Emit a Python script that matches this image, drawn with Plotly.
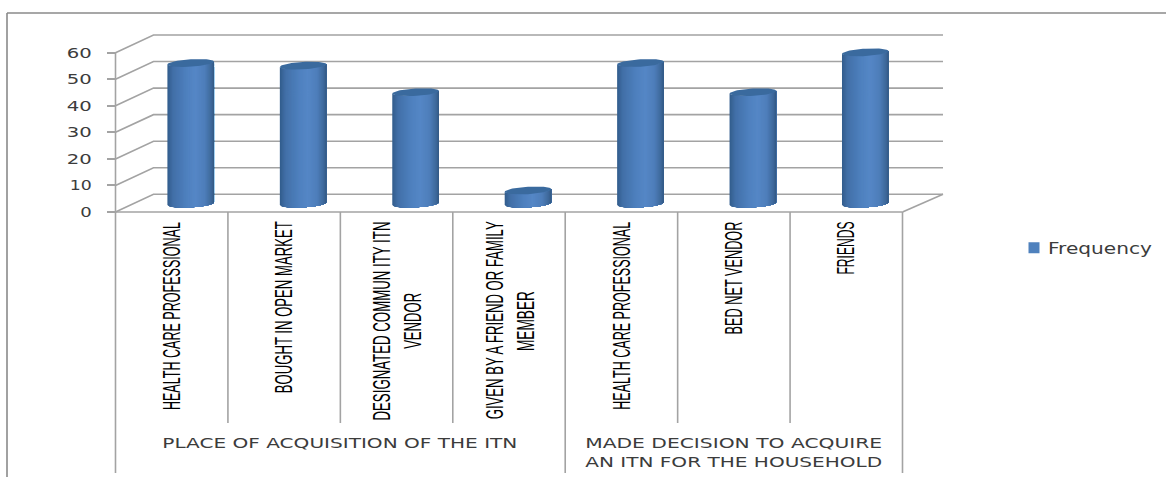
import json
import numpy as np
import plotly.graph_objects as go

# Survey responses: where the ITN came from and who decided to acquire it
categories = [
    ["HEALTH CARE PROFESSIONAL"],
    ["BOUGHT IN OPEN MARKET"],
    ["DESIGNATED COMMUN ITY ITN", "VENDOR"],
    ["GIVEN BY A FRIEND OR FAMILY", "MEMBER"],
    ["HEALTH CARE PROFESSIONAL"],
    ["BED NET VENDOR"],
    ["FRIENDS"],
]
frequency = [53, 52, 42, 5, 53, 42, 57]
groups = [["PLACE OF ACQUISITION OF THE ITN"],
          ["MADE DECISION TO ACQUIRE", "AN ITN FOR THE HOUSEHOLD"]]
group_spans = [(0, 3), (4, 6)]
y_ticks = [0, 10, 20, 30, 40, 50, 60]

WIDTH, HEIGHT = 1166, 477
# Screen extents of the front plane of the 3-D box
LEFT, RIGHT, FLOOR, TOP60 = 115.5, 902.5, 212.0, 52.7
PX_X = (RIGHT - LEFT) / 7
PX_Y = (FLOOR - TOP60) / 60
DEPTH_X, DEPTH_Y = 38 / PX_X, 17.7 / PX_Y      # oblique depth of the box
GRID = "#a3a3a3"
AXIS_TEXT = "#3c3c3c"

# Set widths of the condensed and extended captions, in pixels
text_lengths = {
    "HEALTH CARE PROFESSIONAL": 188, "BOUGHT IN OPEN MARKET": 172,
    "DESIGNATED COMMUN ITY ITN": 199, "VENDOR": 56,
    "GIVEN BY A FRIEND OR FAMILY": 198, "MEMBER": 60,
    "BED NET VENDOR": 113, "FRIENDS": 53,
    "PLACE OF ACQUISITION OF THE ITN": 355,
    "MADE DECISION TO ACQUIRE": 297, "AN ITN FOR THE HOUSEHOLD": 297,
    "Frequency": 104,
    "0": 11.5, "10": 22, "20": 25, "30": 25, "40": 25, "50": 25, "60": 25,
}


def down(px):
    """Data y of a point `px` screen pixels below the floor line."""
    return -px / PX_Y


def mix(stops, u):
    pos = [s[0] for s in stops]
    rgb = [np.interp(u, pos, [s[1][i] for s in stops]) for i in range(3)]
    return "rgb(%d,%d,%d)" % tuple(int(round(c)) for c in rgb)


SHADE = [(-1.0, (50, 92, 140)), (-0.75, (66, 112, 168)), (-0.2, (78, 128, 190)),
         (0.2, (85, 135, 198)), (0.6, (78, 126, 186)), (0.88, (62, 105, 155)),
         (1.0, (50, 88, 130))]

fig = go.Figure()

# Back wall, side wall and floor outline
wall_x, wall_y = [], []
for t in y_ticks:
    wall_x += [-0.5, -0.5 + DEPTH_X, 6.5 + 40.5 / PX_X, None]
    wall_y += [t, t + DEPTH_Y, t + DEPTH_Y, None]
wall_x += [6.5, 6.5 + 40.5 / PX_X, None, -0.5, 6.5, None, -0.5, -0.5, None]
wall_y += [0, DEPTH_Y, None, 0, 0, None, 0, 60, None]

# Dividers hanging below the floor between the categories and groups
for i in range(8):
    depth = 261 if i in (0, 4, 7) else 211
    wall_x += [i - 0.5, i - 0.5, None]
    wall_y += [0, down(depth), None]

fig.add_trace(go.Scatter(x=wall_x, y=wall_y, mode="lines",
                         line=dict(color=GRID, width=1.6), showlegend=False,
                         hoverinfo="skip"))

# Cylinders: graded colour bands painted left to right, each one covering the
# remainder of the body, then closed by a tilted elliptical cap
BASE = 8.3 / PX_Y
RADIUS_X, RADIUS_Y, TILT = 23.3 / PX_X, 3.7 / PX_Y, 1.35 / PX_Y
CENTER_SHIFT = 19 / PX_X
edges = np.linspace(-1, 1, 47)
for k in range(len(edges) - 1):
    run = edges[k:]
    front = -RADIUS_Y * np.sqrt(1 - run ** 2) + TILT * run
    xs, ys = [], []
    for i, v in enumerate(frequency):
        cx = i + CENTER_SHIFT
        xs += list(cx + RADIUS_X * run) + list(cx + RADIUS_X * run[::-1]) + [None]
        ys += list(BASE + v + front) + list(BASE + front[::-1]) + [None]
    colour = mix(SHADE, (edges[k] + edges[k + 1]) / 2)
    fig.add_trace(go.Scatter(x=xs, y=ys, mode="lines", fill="toself", fillcolor=colour,
                             line=dict(color=colour, width=0),
                             showlegend=False, hoverinfo="skip"))

angle = np.linspace(0, 2 * np.pi, 61)
cap_x, cap_y = [], []
for i, v in enumerate(frequency):
    cap_x += list(i + CENTER_SHIFT + RADIUS_X * np.cos(angle)) + [None]
    cap_y += list(BASE + v + RADIUS_Y * np.sin(angle) + TILT * np.cos(angle)) + [None]
fig.add_trace(go.Scatter(x=cap_x, y=cap_y, mode="lines", fill="toself", fillcolor="#3a6a9e",
                         line=dict(color="#3a6a9e", width=0),
                         showlegend=False, hoverinfo="skip"))

# Legend entry for the series
fig.add_trace(go.Scatter(x=[0], y=[None], mode="markers", name="Frequency",
                         marker=dict(symbol="square", size=11, color="#4f81bd")))

annotations = []
# Rotated category labels, one annotation per wrapped line
LABEL_TOP = 9.7
SECOND_LINE_CENTER = 109
for i, lines in enumerate(categories):
    first = dict(x=i, y=down(LABEL_TOP + text_lengths[lines[0]] / 2), text=lines[0])
    if len(lines) == 1:
        annotations.append(first)
    else:
        annotations.append(dict(first, xshift=-14))
        annotations.append(dict(x=i, xshift=16.5, y=down(SECOND_LINE_CENTER), text=lines[1]))
for a in annotations:
    a.update(textangle=-90, xanchor="center", yanchor="middle", showarrow=False,
             font=dict(family="Liberation Sans", size=23, color="#000000"))

# Group captions beneath the category dividers
for (start, end), lines in zip(group_spans, groups):
    for n, line in enumerate(lines):
        annotations.append(dict(x=(start + end) / 2, y=down(231 + 19 * n), text=line,
                                yanchor="middle", xanchor="center", showarrow=False,
                                font=dict(family="DejaVu Sans", size=14, color=AXIS_TEXT)))

# Chart-area frame along the top and left
frame = dict(type="line", xref="paper", yref="paper", line=dict(color="#8a8a8a", width=1.6))
shapes = [
    dict(frame, x0=7 / WIDTH, x1=7 / WIDTH, y0=0, y1=1 - 13 / HEIGHT),
    dict(frame, x0=7 / WIDTH, x1=1, y0=1 - 13 / HEIGHT, y1=1 - 13 / HEIGHT),
]

fig.update_layout(
    width=WIDTH, height=HEIGHT, autosize=False,
    margin=dict(l=0, r=0, t=0, b=0, autoexpand=False),
    paper_bgcolor="white", plot_bgcolor="rgba(0,0,0,0)",
    xaxis=dict(domain=[0, 1], range=[-0.5 - LEFT / PX_X, 6.5 + (WIDTH - RIGHT) / PX_X],
               showgrid=False, zeroline=False, showticklabels=False, ticks="",
               anchor="free", position=1 - FLOOR / HEIGHT),
    yaxis=dict(domain=[0, 1], range=[down(HEIGHT - FLOOR), FLOOR / PX_Y],
               tickvals=y_ticks, showgrid=False, zeroline=False,
               anchor="free", position=LEFT / WIDTH,
               ticks="outside", ticklen=9, tickwidth=1.6, tickcolor=GRID, ticklabelstandoff=12,
               tickfont=dict(family="DejaVu Sans", size=14, color=AXIS_TEXT)),
    showlegend=True,
    legend=dict(x=1014 / WIDTH, y=1 - 248 / HEIGHT, xanchor="left", yanchor="middle",
                bgcolor="rgba(0,0,0,0)", borderwidth=0,
                font=dict(family="DejaVu Sans", size=15, color=AXIS_TEXT)),
    annotations=annotations,
    shapes=shapes,
    hovermode=False,
)

# Fit each caption to its set width with SVG text length adjustment, pull the
# legend text in next to its swatch and let it run past the legend's own box
fit_text = """
var lengths = %s;
gd = document.getElementsByClassName('plotly-graph-div')[0];
gd.querySelectorAll('svg text').forEach(function (t) {
    var n = lengths[t.textContent];
    if (n !== undefined) {
        t.setAttribute('textLength', n);
        t.setAttribute('lengthAdjust', 'spacingAndGlyphs');
    }
    if (t.classList.contains('legendtext')) {
        t.setAttribute('x', parseFloat(t.getAttribute('x')) - 6);
    }
});
gd.querySelectorAll('.legend [clip-path], .legend .scrollbox').forEach(function (el) {
    el.removeAttribute('clip-path');
    el.style.clipPath = 'none';
});
""" % json.dumps(text_lengths)

fig.write_html("out.html", post_script=fit_text)
